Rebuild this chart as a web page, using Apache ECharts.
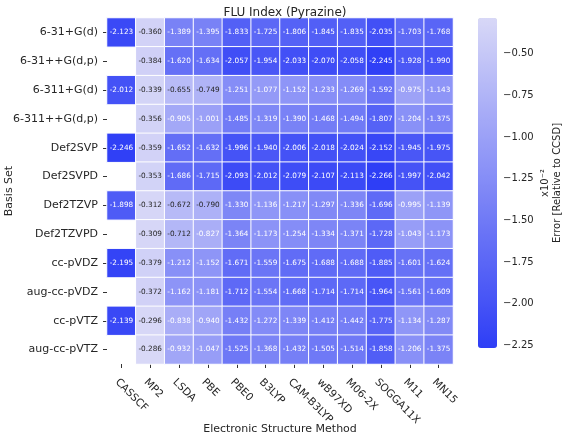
<!DOCTYPE html>
<html>
<head>
<meta charset="utf-8">
<script src="https://cdn.jsdelivr.net/npm/echarts@6/dist/echarts.min.js"></script>
<style>html,body{margin:0;padding:0;background:#fff}#c{width:567px;height:434px}</style>
</head>
<body>
<div id="c"></div>
<script>
const methods = ['CASSCF','MP2','LSDA','PBE','PBE0','B3LYP','CAM-B3LYP','wB97XD','M06-2X','SOGGA11X','M11','MN15'];
const basisSets = ['6-31+G(d)','6-31++G(d,p)','6-311+G(d)','6-311++G(d,p)','Def2SVP','Def2SVPD','Def2TZVP','Def2TZVPD','cc-pVDZ','aug-cc-pVDZ','cc-pVTZ','aug-cc-pVTZ'];
const row_631Gd     = [-2.123,-0.360,-1.389,-1.395,-1.833,-1.725,-1.806,-1.845,-1.835,-2.035,-1.703,-1.768];
const row_631ppGdp  = [null,-0.384,-1.620,-1.634,-2.057,-1.954,-2.033,-2.070,-2.058,-2.245,-1.928,-1.990];
const row_6311Gd    = [-2.012,-0.339,-0.655,-0.749,-1.251,-1.077,-1.152,-1.233,-1.269,-1.592,-0.975,-1.143];
const row_6311ppGdp = [null,-0.356,-0.905,-1.001,-1.485,-1.319,-1.390,-1.468,-1.494,-1.807,-1.204,-1.375];
const row_def2SVP   = [-2.246,-0.359,-1.652,-1.632,-1.996,-1.940,-2.006,-2.018,-2.024,-2.152,-1.945,-1.975];
const row_def2SVPD  = [null,-0.353,-1.686,-1.715,-2.093,-2.012,-2.079,-2.107,-2.113,-2.266,-1.997,-2.042];
const row_def2TZVP  = [-1.898,-0.312,-0.672,-0.790,-1.330,-1.136,-1.217,-1.297,-1.336,-1.696,-0.995,-1.139];
const row_def2TZVPD = [null,-0.309,-0.712,-0.827,-1.364,-1.173,-1.254,-1.334,-1.371,-1.728,-1.043,-1.173];
const row_ccpVDZ    = [-2.195,-0.379,-1.212,-1.152,-1.671,-1.559,-1.675,-1.688,-1.688,-1.885,-1.601,-1.624];
const row_augccpVDZ = [null,-0.372,-1.162,-1.181,-1.712,-1.554,-1.668,-1.714,-1.714,-1.964,-1.561,-1.609];
const row_ccpVTZ    = [-2.139,-0.296,-0.838,-0.940,-1.432,-1.272,-1.339,-1.412,-1.442,-1.775,-1.134,-1.287];
const row_augccpVTZ = [null,-0.286,-0.932,-1.047,-1.525,-1.368,-1.432,-1.505,-1.514,-1.858,-1.206,-1.375];
const colorbarTicks = [-2.25,-2.00,-1.75,-1.50,-1.25,-1.00,-0.75,-0.50];

const rows = [row_631Gd,row_631ppGdp,row_6311Gd,row_6311ppGdp,row_def2SVP,row_def2SVPD,row_def2TZVP,row_def2TZVPD,row_ccpVDZ,row_augccpVDZ,row_ccpVTZ,row_augccpVTZ];
const vmin = -2.266, vmax = -0.286;
const data = [];
rows.forEach((r, yi) => r.forEach((v, xi) => {
  if (v === null) return;
  data.push({value: [xi, yi, v], label: {color: v > -0.80 ? '#262626' : '#ffffff'}});
}));
const font = 'DejaVu Sans';
const minus = s => s.replace('-', '\u2212');

const chart = echarts.init(document.getElementById('c'), null, {renderer: 'canvas'});
chart.setOption({
  animation: false,
  textStyle: {fontFamily: font},
  title: {text: 'FLU Index (Pyrazine)', left: 280, textAlign: 'center', top: 2,
    textStyle: {fontFamily: font, fontSize: 12, fontWeight: 'normal', color: '#262626'}},
  grid: [
    {left: 107, top: 18, width: 346, height: 346, outerBoundsMode: 'none', containLabel: false},
    {left: 478, top: 18, width: 19, height: 330, outerBoundsMode: 'none', containLabel: false}
  ],
  xAxis: [
    {type: 'category', gridIndex: 0, data: methods, position: 'bottom',
     name: 'Electronic Structure Method', nameLocation: 'middle', nameGap: 60, nameMoveOverlap: false,
     nameTextStyle: {fontFamily: font, fontSize: 11, color: '#262626'},
     axisLine: {show: false}, splitLine: {show: false},
     axisTick: {show: true, alignWithLabel: true, length: 4, lineStyle: {color: '#333'}},
     axisLabel: {rotate: -45, fontFamily: font, fontSize: 10.5, color: '#262626', margin: 12, interval: 0,
       verticalAlign: 'top', padding: [1, 0, 0, 0]}},
    {type: 'value', gridIndex: 1, show: false, min: 0, max: 1}
  ],
  yAxis: [
    {type: 'category', gridIndex: 0, data: basisSets, inverse: true,
     name: 'Basis Set', nameLocation: 'middle', nameGap: 92, nameRotate: 90, nameMoveOverlap: false,
     nameTextStyle: {fontFamily: font, fontSize: 11, color: '#262626'},
     axisLine: {show: false}, splitLine: {show: false},
     axisTick: {show: true, alignWithLabel: true, length: 4, lineStyle: {color: '#333'}},
     axisLabel: {fontFamily: font, fontSize: 11, color: '#262626', margin: 9, interval: 0}},
    {type: 'value', gridIndex: 1, position: 'right', min: vmin, max: vmax,
     name: 'x10\u207B\u00B2\nError [Relative to CCSD]', nameLocation: 'middle', nameGap: 42, nameRotate: 90,
     nameTextStyle: {fontFamily: font, fontSize: 10, color: '#262626', lineHeight: 12},
     axisLine: {show: false}, splitLine: {show: false},
     axisTick: {show: true, length: 4, lineStyle: {color: '#333'}, customValues: colorbarTicks},
     axisLabel: {fontFamily: font, fontSize: 10, color: '#262626', margin: 6,
       customValues: colorbarTicks, formatter: v => minus(v.toFixed(2))}}
  ],
  visualMap: {
    type: 'continuous', min: vmin, max: vmax, seriesIndex: 0, orient: 'vertical',
    left: 478, top: 18, itemWidth: 19, itemHeight: 330, padding: 0,
    calculable: false, text: null, showLabel: false, hoverLink: false,
    inRange: {color: ['#2e3ef6', '#d8d8f7']}
  },
  series: [
    {type: 'heatmap', xAxisIndex: 0, yAxisIndex: 0, data: data,
     itemStyle: {borderColor: '#ffffff', borderWidth: 1},
     label: {show: true, fontFamily: font, fontSize: 7.3, formatter: p => p.value[2].toFixed(3)}},
    {type: 'scatter', xAxisIndex: 1, yAxisIndex: 1, data: [], silent: true}
  ]
});
</script>
</body>
</html>
